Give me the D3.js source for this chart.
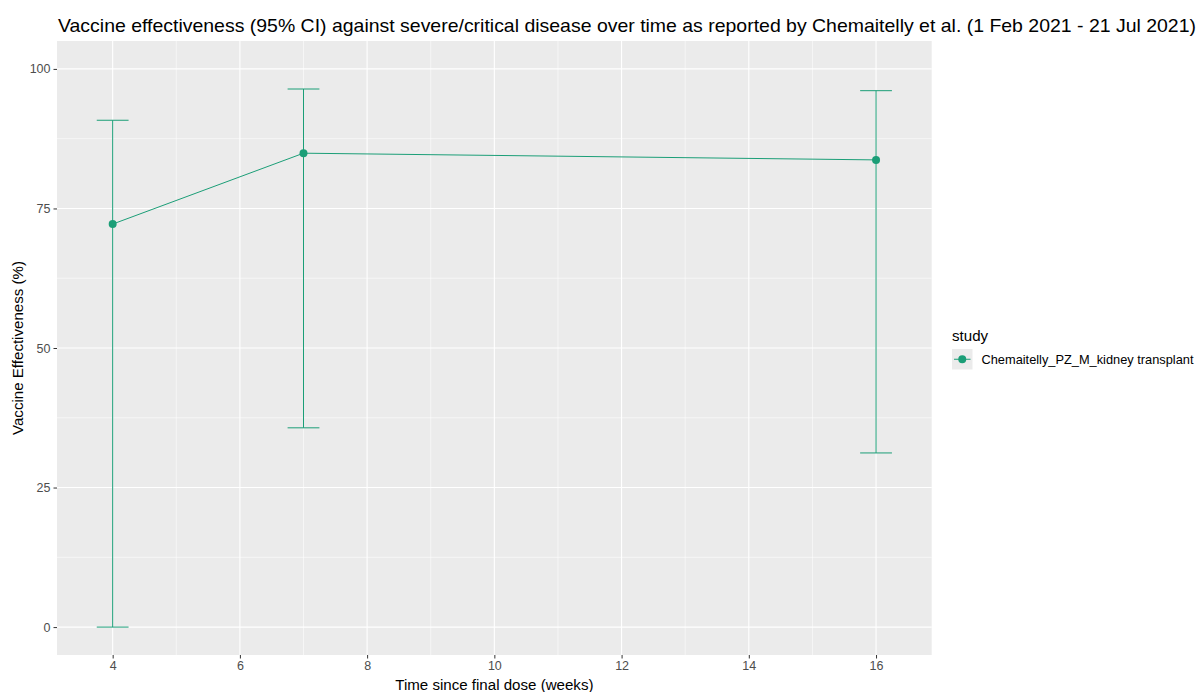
<!DOCTYPE html>
<html>
<head>
<meta charset="utf-8">
<title>Vaccine effectiveness</title>
<style>
  body { margin: 0; background: #fff; }
  svg { display: block; font-family: "Liberation Sans", Arial, sans-serif; }
  .grid-major { stroke: #fff; stroke-width: 1.1px; }
  .grid-minor { stroke: #fff; stroke-width: 0.55px; }
</style>
</head>
<body>
<script src="https://d3js.org/d3.v7.min.js"></script>
<script>
  // data
  var weeks = [4, 7, 16];
  var ve = [72.2, 84.9, 83.7];
  var lower = [0, 35.7, 31.2];
  var upper = [90.8, 96.4, 96.1];
  var study = "Chemaitelly_PZ_M_kidney transplant";
  var xTicks = [4, 6, 8, 10, 12, 14, 16];
  var xMinor = [5, 7, 9, 11, 13, 15];
  var yTicks = [0, 25, 50, 75, 100];
  var yMinor = [12.5, 37.5, 62.5, 87.5];
  var colour = "#1b9e77";

  var width = 1201, height = 692;
  var panel = {left: 57, right: 931.7, top: 41, bottom: 655};

  var svg = d3.select("body").append("svg")
      .attr("width", width)
      .attr("height", height);

  // ggplot-style 5% expansion; errorbar width 0.5
  var x = d3.scaleLinear().domain([3.125, 16.875]).range([panel.left, panel.right]);
  var y = d3.scaleLinear().domain([-5, 105]).range([panel.bottom, panel.top]);

  svg.append("rect")
      .attr("x", panel.left).attr("y", panel.top)
      .attr("width", panel.right - panel.left)
      .attr("height", panel.bottom - panel.top)
      .attr("fill", "#ebebeb");

  var grid = svg.append("g");
  grid.selectAll(".ym").data(yMinor).join("line").attr("class", "grid-minor")
      .attr("x1", panel.left).attr("x2", panel.right)
      .attr("y1", d => y(d)).attr("y2", d => y(d));
  grid.selectAll(".xm").data(xMinor).join("line").attr("class", "grid-minor")
      .attr("y1", panel.top).attr("y2", panel.bottom)
      .attr("x1", d => x(d)).attr("x2", d => x(d));
  grid.selectAll(".yM").data(yTicks).join("line").attr("class", "grid-major")
      .attr("x1", panel.left).attr("x2", panel.right)
      .attr("y1", d => y(d)).attr("y2", d => y(d));
  grid.selectAll(".xM").data(xTicks).join("line").attr("class", "grid-major")
      .attr("y1", panel.top).attr("y2", panel.bottom)
      .attr("x1", d => x(d)).attr("x2", d => x(d));

  // axes
  var xAxis = svg.append("g")
      .attr("transform", "translate(0," + panel.bottom + ")")
      .call(d3.axisBottom(x).tickValues(xTicks).tickSize(3.5).tickPadding(3));
  var yAxis = svg.append("g")
      .attr("transform", "translate(" + panel.left + ",0)")
      .call(d3.axisLeft(y).tickValues(yTicks).tickSize(3.5).tickPadding(3));
  [xAxis, yAxis].forEach(function (a) {
    a.select(".domain").remove();
    a.selectAll(".tick line").attr("stroke", "#333").attr("stroke-width", 1);
    a.selectAll(".tick text").attr("fill", "#4d4d4d")
      .style("font-size", "12.5px").style("font-family", "Liberation Sans, Arial, sans-serif");
  });

  var pts = weeks.map((w, i) => ({w: w, v: ve[i], lo: lower[i], hi: upper[i]}));

  // error bars
  var eb = svg.append("g").attr("stroke", colour).attr("stroke-width", 1).attr("fill", "none");
  var half = 0.25;
  pts.forEach(function (d) {
    eb.append("line").attr("x1", x(d.w)).attr("x2", x(d.w)).attr("y1", y(d.lo)).attr("y2", y(d.hi));
    eb.append("line").attr("x1", x(d.w - half)).attr("x2", x(d.w + half)).attr("y1", y(d.hi)).attr("y2", y(d.hi));
    eb.append("line").attr("x1", x(d.w - half)).attr("x2", x(d.w + half)).attr("y1", y(d.lo)).attr("y2", y(d.lo));
  });

  svg.append("path")
      .datum(pts)
      .attr("fill", "none")
      .attr("stroke", colour)
      .attr("stroke-width", 1)
      .attr("d", d3.line().x(d => x(d.w)).y(d => y(d.v)));

  svg.append("g").selectAll("circle").data(pts).join("circle")
      .attr("cx", d => x(d.w)).attr("cy", d => y(d.v))
      .attr("r", 4).attr("fill", colour);

  // titles
  svg.append("text")
      .attr("x", 58).attr("y", 31.5)
      .attr("fill", "#000")
      .attr("textLength", 1138)
      .attr("lengthAdjust", "spacingAndGlyphs")
      .style("font-size", "18.6px")
      .text("Vaccine effectiveness (95% CI) against severe/critical disease over time as reported by Chemaitelly et al. (1 Feb 2021 - 21 Jul 2021)");

  svg.append("text")
      .attr("x", (panel.left + panel.right) / 2).attr("y", 689.5)
      .attr("text-anchor", "middle")
      .style("font-size", "15.1px")
      .text("Time since final dose (weeks)");

  svg.append("text")
      .attr("transform", "translate(23," + ((panel.top + panel.bottom) / 2) + ") rotate(-90)")
      .attr("text-anchor", "middle")
      .style("font-size", "15.1px")
      .text("Vaccine Effectiveness (%)");

  // legend
  var lg = svg.append("g").attr("transform", "translate(952,330)");
  lg.append("text").attr("x", 0).attr("y", 11).style("font-size", "15.1px").text("study");
  lg.append("rect").attr("x", 0).attr("y", 19).attr("width", 20.5).attr("height", 20.5).attr("fill", "#ebebeb");
  lg.append("line").attr("x1", 2).attr("x2", 18.5).attr("y1", 29.25).attr("y2", 29.25)
      .attr("stroke", colour).attr("stroke-width", 1);
  lg.append("circle").attr("cx", 10.25).attr("cy", 29.25).attr("r", 4).attr("fill", colour);
  lg.append("text").attr("x", 29.5).attr("y", 34).style("font-size", "12.8px").attr("fill", "#000").text(study);
</script>
</body>
</html>
